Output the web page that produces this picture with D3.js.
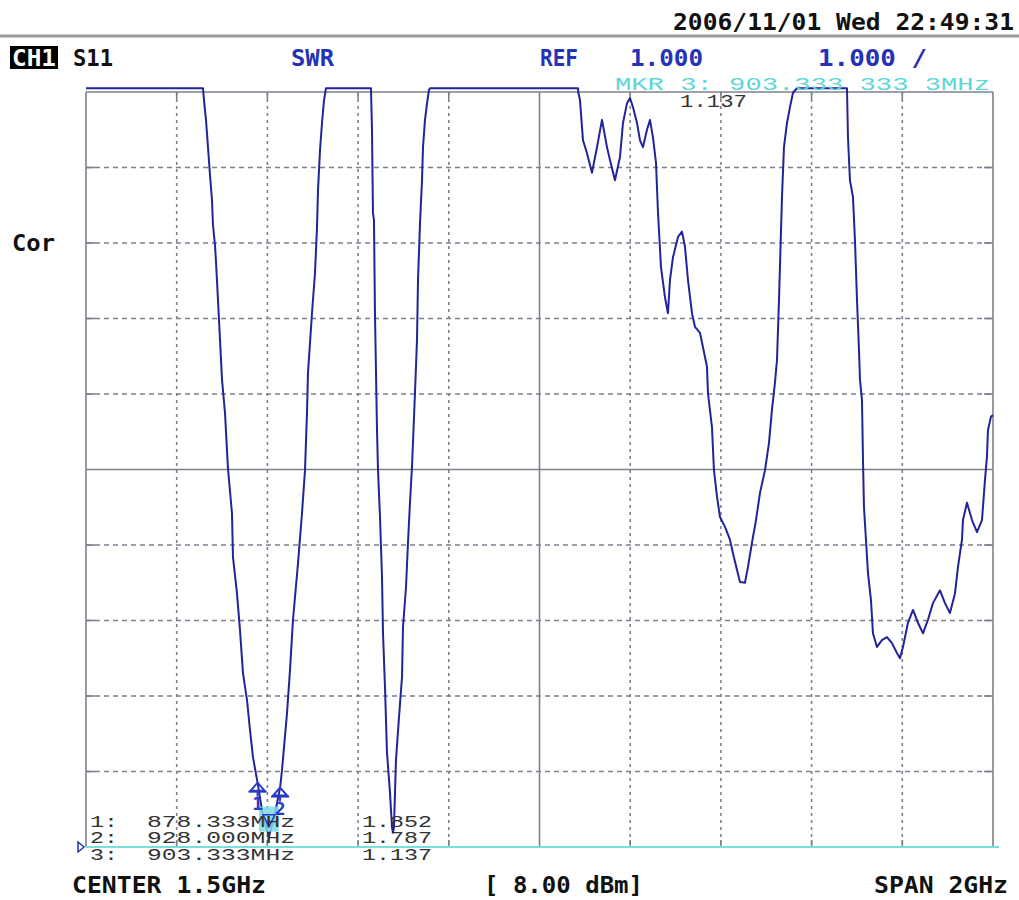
<!DOCTYPE html>
<html><head><meta charset="utf-8">
<script src="https://cdn.jsdelivr.net/npm/d3@7"></script>
<style>body{margin:0;background:#fff}svg{display:block}</style>
</head><body><svg id="c" width="1019" height="900"></svg>
<script>
// ---- data (frequency in MHz, SWR) ----
const freqMHz = [500,758.0,760.2,764.6,769.0,773.4,777.8,780.0,784.4,786.7,793.3,799.9,806.5,813.1,821.9,824.1,832.9,839.6,846.2,855.0,861.6,868.2,878.3,890,903.3,916,928.0,932.2,943.2,949.8,956.4,967.5,976.3,982.9,987.3,989.5,998.3,1004.9,1009.4,1011.6,1016.0,1020.4,1024.8,1029.2,1128.4,1130.6,1132.8,1135.0,1137.2,1141.7,1143.9,1148.3,1152.7,1154.9,1159.3,1163.7,1170.3,1174.7,1176.9,1179.1,1183.5,1190.2,1196.8,1199.0,1205.6,1210.0,1214.4,1218.8,1225.4,1229.9,1232.1,1236.5,1240.9,1243.1,1247.5,1252.0,1256.3,1258.5,1584.9,1585.5,1589.3,1595.9,1604.7,1615.7,1626.8,1637.8,1648.8,1655.4,1666.4,1677.5,1684.1,1692.9,1699.5,1706.1,1715.0,1721.6,1728.2,1737.0,1743.6,1750.2,1756.9,1761.3,1767.9,1776.7,1783.3,1787.7,1794.3,1805.4,1814.2,1820.8,1827.4,1836.2,1842.8,1853.9,1860.5,1869.3,1871.5,1880.3,1884.7,1891.4,1898.0,1909.0,1920.0,1926.6,1935.5,1942.1,1953.1,1959.7,1968.5,1977.4,1986.2,1997.2,2006.0,2012.6,2019.2,2023.7,2028.1,2034.7,2039.1,2045.7,2052.3,2059.0,2067.8,2178.0,2180.2,2184.6,2191.2,2195.6,2200.1,2204.5,2206.7,2211.1,2213.3,2215.5,2219.9,2224.3,2230.9,2235.3,2244.1,2255.2,2266.2,2277.2,2288.2,2294.9,2301.5,2312.5,2323.6,2334.6,2345.6,2356.6,2367.6,2383.1,2394.1,2405.1,2416.2,2422.8,2431.6,2433.8,2442.6,2453.7,2464.7,2475.7,2482.3,2486.7,2488.9,2495.6,2500];
const swr = [11.05,11.05,10.89,10.63,10.27,9.90,9.57,9.24,8.97,8.75,7.98,7.19,6.75,6.01,5.42,4.84,4.36,3.87,3.30,2.95,2.55,2.19,1.852,1.42,1.137,1.42,1.787,2.02,2.77,3.34,4.01,4.76,5.42,5.99,6.75,7.28,8.07,8.60,9.21,9.70,10.23,10.59,10.89,11.05,11.05,10.50,9.40,9.30,8.07,6.52,5.99,5.37,4.58,3.83,3.12,2.25,1.72,1.26,1.19,1.26,2.15,2.72,3.25,3.91,4.44,5.03,5.56,6.03,7.01,7.72,8.51,9.26,9.83,10.27,10.63,10.85,11.03,11.05,11.05,11.0,10.89,10.36,10.19,9.93,10.27,10.63,10.27,10.10,9.83,10.14,10.59,10.85,10.92,10.80,10.59,10.36,10.27,10.50,10.63,10.40,10.06,9.40,8.68,8.28,8.07,8.51,8.81,9.08,9.15,8.95,8.51,8.07,7.89,7.81,7.62,7.36,7.01,6.56,5.99,5.64,5.37,5.24,5.07,4.89,4.67,4.51,4.50,4.71,5.03,5.33,5.69,5.99,6.35,6.79,7.15,7.45,8.25,9.61,10.27,10.59,10.80,10.99,11.05,11.05,10.40,9.83,9.61,9.04,8.25,7.58,7.19,6.92,6.13,5.50,5.07,4.63,4.27,3.83,3.65,3.74,3.78,3.70,3.57,3.50,3.65,3.97,4.14,3.97,3.83,4.01,4.23,4.40,4.23,4.10,4.36,4.71,5.07,5.33,5.56,5.33,5.17,5.33,5.86,6.17,6.52,6.70,6.72];

const gridFreqMHz = [500,700,900,1100,1300,1500,1700,1900,2100,2300,2500];
const gridSwr = [1,2,3,4,5,6,7,8,9,10,11];

const markerIds = ["1","2","3"];
const markerFreqMHz = [878.333, 928.000, 903.333];
const markerSwr = [1.852, 1.787, 1.137];
const markerFreqLabels = ["878.333MHz","928.000MHz","903.333MHz"];
const markerSwrLabels = ["1.852","1.787","1.137"];

const headerDate = "2006/11/01 Wed 22:49:31";
const activeMarkerText = "MKR  3:  903.333 333 3MHz";
const activeMarkerValue = "1.137";

// ---- drawing ----
const svg = d3.select("#c");
const x = d3.scaleLinear().domain([500,2500]).range([86,993]);
const y = d3.scaleLinear().domain([1,11]).range([847,92]);

const BOLD = "'DejaVu Sans Mono', monospace";
const THIN = "'Liberation Mono', 'DejaVu Sans Mono', monospace";
const BLUE_TXT = "#2431b8";
const TRACE = "#23239c";
const GRID = "#7f7f8e";

function txt(s, px, py, opts) {
  const t = svg.append("text").attr("x", px).attr("y", py).text(s)
    .attr("font-family", opts.family || BOLD)
    .attr("font-weight", opts.weight || "bold")
    .attr("font-size", opts.size || 23)
    .attr("fill", opts.fill || "#111");
  if (opts.len) t.attr("textLength", opts.len).attr("lengthAdjust", "spacingAndGlyphs");
  if (opts.anchor) t.attr("text-anchor", opts.anchor);
  return t;
}

// header
txt(headerDate, 1014, 30, {anchor:"end", len:341});
svg.append("line").attr("x1",0).attr("x2",1019).attr("y1",36).attr("y2",36)
  .attr("stroke","#9a9a9a").attr("stroke-width",3);

svg.append("rect").attr("x",10).attr("y",46).attr("width",48).attr("height",23).attr("fill","#000");
txt("CH1", 12, 66, {fill:"#fff", len:44});
txt("S11", 73, 66, {len:40});
txt("SWR", 291, 66, {fill:BLUE_TXT, len:43});
txt("REF", 540, 66, {fill:BLUE_TXT, len:38});
txt("1.000", 630, 66, {fill:BLUE_TXT, len:73});
txt("1.000 /", 818, 66, {fill:BLUE_TXT, len:109});
txt("Cor", 12, 251, {len:43});

// grid
const g = svg.append("g");
gridFreqMHz.forEach((f,i) => {
  const solid = (i===0 || i===gridFreqMHz.length-1 || f===1500);
  g.append("line").attr("x1",x(f)).attr("x2",x(f)).attr("y1",y(11)).attr("y2",y(1))
    .attr("stroke",GRID).attr("stroke-width",1.6)
    .attr("stroke-dasharray", solid ? null : "3,4");
  if (!solid) {
    g.append("line").attr("x1",x(f)).attr("x2",x(f)).attr("y1",y(11)).attr("y2",y(11)+7)
      .attr("stroke",GRID).attr("stroke-width",1.6);
    g.append("line").attr("x1",x(f)).attr("x2",x(f)).attr("y1",y(1)-7).attr("y2",y(1))
      .attr("stroke",GRID).attr("stroke-width",1.6);
  }
});
gridSwr.forEach((s,i) => {
  const solid = (i===0 || i===gridSwr.length-1 || s===6);
  g.append("line").attr("x1",x(500)).attr("x2",x(2500)).attr("y1",y(s)).attr("y2",y(s))
    .attr("stroke",GRID).attr("stroke-width",1.6)
    .attr("stroke-dasharray", solid ? null : "5,4");
  if (!solid) {
    g.append("line").attr("x1",x(500)).attr("x2",x(500)+9).attr("y1",y(s)).attr("y2",y(s))
      .attr("stroke",GRID).attr("stroke-width",1.6);
    g.append("line").attr("x1",x(2500)-9).attr("x2",x(2500)).attr("y1",y(s)).attr("y2",y(s))
      .attr("stroke",GRID).attr("stroke-width",1.6);
  }
});

// reference line (REF 1.000) in cyan
svg.append("line").attr("x1",x(500)).attr("x2",x(2500)+6).attr("y1",y(1)).attr("y2",y(1))
  .attr("stroke","#78dede").attr("stroke-width",2);
svg.append("path").attr("d", `M${x(500)-8},${y(1)-5}L${x(500)-2},${y(1)}L${x(500)-8},${y(1)+5}Z`)
  .attr("fill","none").attr("stroke",BLUE_TXT).attr("stroke-width",1.5);

// trace
const pts = freqMHz.map((f,i)=>[f, swr[i]]);
const line = d3.line().x(d=>x(d[0])).y(d=>y(d[1]));
svg.append("path").datum(pts).attr("d", line)
  .attr("fill","none").attr("stroke",TRACE).attr("stroke-width",2).attr("stroke-linejoin","round");

// active marker text
txt(activeMarkerText, 615, 90, {family:THIN, weight:"normal", size:18, fill:"#5fd6d6", len:375});
txt(activeMarkerValue, 680, 107, {family:THIN, weight:"normal", size:18, fill:"#333", len:67});

// marker 3 (active) highlight
{
  const mx = x(markerFreqMHz[2]), my = y(markerSwr[2]);
  svg.append("rect").attr("x",mx-10).attr("y",my-30).attr("width",20).attr("height",25)
    .attr("fill","#7fdce6").attr("opacity",0.85);
  svg.append("path").attr("d", `M${mx-6},${my-22}L${mx+6},${my-22}L${mx},${my-10}Z`)
    .attr("fill","none").attr("stroke","#2a3ac8").attr("stroke-width",1.5);
}
// markers 1 and 2 symbols
[0,1].forEach(i => {
  const mx = x(markerFreqMHz[i]), my = y(markerSwr[i]);
  const m = svg.append("g").attr("stroke","#2a3ac8").attr("fill","none").attr("stroke-width",2);
  m.append("path").attr("d", `M${mx},${my}L${mx+7},${my+8}L${mx-7},${my+8}Z`);
  m.append("line").attr("x1",mx-9).attr("x2",mx+9).attr("y1",my+9).attr("y2",my+9);
  m.append("line").attr("x1",mx).attr("x2",mx).attr("y1",my+9).attr("y2",my+14);
  svg.append("text").attr("x",mx).attr("y",my+27).attr("text-anchor","middle")
    .attr("font-family",BOLD).attr("font-weight","bold").attr("font-size",18)
    .attr("fill","#2a3ac8").text(markerIds[i]);
});

// marker table
const rowBase = [827, 843, 860];
markerIds.forEach((id,i) => {
  txt(id+":", 90, rowBase[i], {family:THIN, weight:"normal", size:17, fill:"#333", len:28});
  txt(markerFreqLabels[i], 147, rowBase[i], {family:THIN, weight:"normal", size:17, fill:"#333", len:148});
  txt(markerSwrLabels[i], 362, rowBase[i], {family:THIN, weight:"normal", size:17, fill:"#333", len:70});
});

// footer
txt("CENTER 1.5GHz", 72, 893, {len:194});
txt("[ 8.00 dBm]", 484, 893, {len:159});
txt("SPAN 2GHz", 874, 893, {len:134});
</script></body></html>
